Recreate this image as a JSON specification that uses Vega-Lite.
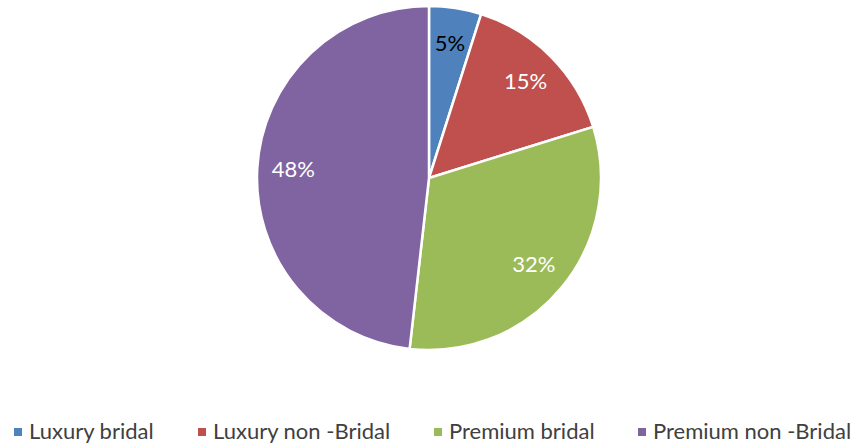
{
  "$schema": "https://vega.github.io/schema/vega-lite/v6.json",
  "width": 858,
  "height": 356,
  "padding": 0,
  "autosize": "pad",
  "background": "white",
  "view": {"stroke": null},
  "data": {
    "values": [
      {"category": "Luxury bridal", "value": 4.9, "label": "5%", "order": 1},
      {"category": "Luxury non -Bridal", "value": 15.3, "label": "15%", "order": 2},
      {"category": "Premium bridal", "value": 31.6, "label": "32%", "order": 3},
      {"category": "Premium non -Bridal", "value": 48.2, "label": "48%", "order": 4}
    ]
  },
  "encoding": {
    "theta": {"field": "value", "type": "quantitative", "stack": true},
    "order": {"field": "order", "type": "quantitative"}
  },
  "layer": [
    {
      "mark": {"type": "arc", "outerRadius": 172, "stroke": "white", "strokeWidth": 2.5},
      "encoding": {
        "color": {
          "field": "category",
          "type": "nominal",
          "sort": ["Luxury bridal", "Luxury non -Bridal", "Premium bridal", "Premium non -Bridal"],
          "scale": {"range": ["#4F81BD", "#C0504D", "#9BBB59", "#8064A2"]},
          "legend": {
            "title": null,
            "orient": "none",
            "direction": "horizontal",
            "legendX": 7,
            "legendY": 421,
            "symbolType": "square",
            "symbolSize": 64,
            "symbolStrokeWidth": 0,
            "labelFont": "Lato",
            "labelFontSize": 22,
            "labelColor": "#404040",
            "labelOffset": 0,
            "columnPadding": 36,
            "labelLimit": 300
          }
        }
      }
    },
    {
      "mark": {"type": "text", "radius": 136, "font": "Lato", "fontSize": 22},
      "encoding": {
        "text": {"field": "label"},
        "color": {
          "condition": {"test": "datum.label === '5%'", "value": "black"},
          "value": "white"
        }
      }
    }
  ]
}
